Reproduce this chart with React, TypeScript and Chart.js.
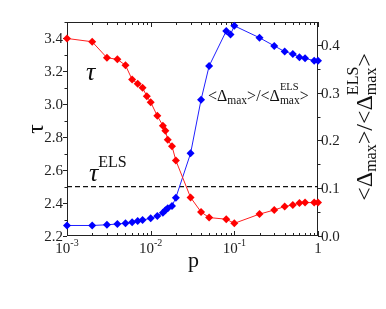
import { useEffect, useRef } from "react";
import { Chart, registerables } from "chart.js";

Chart.register(...registerables);

// ---- data ----
const P_TAU = [0.001, 0.002, 0.003, 0.004, 0.005, 0.006, 0.007, 0.008, 0.009, 0.01, 0.012, 0.014, 0.015, 0.016, 0.018, 0.02, 0.03, 0.04, 0.05, 0.08, 0.1, 0.2, 0.3, 0.4, 0.5, 0.6, 0.7, 0.9, 1.0];
const TAU = [3.4, 3.38, 3.283, 3.273, 3.237, 3.151, 3.125, 3.1, 3.049, 3.013, 2.93, 2.87, 2.84, 2.785, 2.745, 2.659, 2.434, 2.346, 2.312, 2.302, 2.277, 2.333, 2.358, 2.379, 2.389, 2.4, 2.403, 2.403, 2.403];

const P_DELTA = [0.001, 0.002, 0.003, 0.004, 0.005, 0.006, 0.007, 0.008, 0.01, 0.012, 0.014, 0.015, 0.016, 0.018, 0.02, 0.03, 0.04, 0.05, 0.08, 0.09, 0.1, 0.2, 0.3, 0.4, 0.5, 0.6, 0.7, 0.9, 1.0];
const DELTA = [0.022, 0.022, 0.0235, 0.0251, 0.0266, 0.0287, 0.0314, 0.0335, 0.037, 0.042, 0.0488, 0.0538, 0.058, 0.0628, 0.0802, 0.173, 0.285, 0.356, 0.429, 0.422, 0.44, 0.415, 0.398, 0.386, 0.381, 0.374, 0.372, 0.367, 0.367];

const TAU_ELS = 2.5;

const X_MAJOR = [0.001, 0.01, 0.1, 1];
const X_TICK_LABELS = ["10^-3", "10^-2", "10^-1", "1"];
const Y_MAJOR = [2.2, 2.4, 2.6, 2.8, 3.0, 3.2, 3.4];
const Y_MINOR = [2.3, 2.5, 2.7, 2.9, 3.1, 3.3, 3.5];
const Y2_MAJOR = [0, 0.1, 0.2, 0.3, 0.4];
const Y2_MINOR = [0.05, 0.15, 0.25, 0.35];

const SERIF = "'Liberation Serif', 'DejaVu Serif', serif";
const INK = "#222";

type Seg = { t: string; size: number; dy?: number; overlay?: boolean; italic?: boolean };

function richWidth(ctx: CanvasRenderingContext2D, segs: Seg[]) {
  let x = 0, ps = 0, pw = 0;
  for (const s of segs) {
    ctx.font = `${s.italic ? "italic " : ""}${s.size}px ${SERIF}`;
    const w = ctx.measureText(s.t).width;
    if (s.overlay) {
      x = Math.max(ps + pw, ps + w);
    } else {
      ps = x; pw = w; x += w;
    }
  }
  return x;
}

function drawRich(ctx: CanvasRenderingContext2D, x0: number, y: number, segs: Seg[], align: "left" | "center" | "right") {
  const total = richWidth(ctx, segs);
  let x = align === "left" ? x0 : align === "center" ? x0 - total / 2 : x0 - total;
  let ps = x, pw = 0;
  ctx.textAlign = "left";
  ctx.textBaseline = "alphabetic";
  for (const s of segs) {
    ctx.font = `${s.italic ? "italic " : ""}${s.size}px ${SERIF}`;
    const w = ctx.measureText(s.t).width;
    if (s.overlay) {
      ctx.fillText(s.t, ps, y + (s.dy || 0));
      x = Math.max(ps + pw, ps + w);
    } else {
      ctx.fillText(s.t, x, y + (s.dy || 0));
      ps = x; pw = w; x += w;
    }
  }
}

const framePlugin = {
  id: "frame",
  beforeDatasetsDraw(chart: any) {
    const ctx: CanvasRenderingContext2D = chart.ctx;
    const { left, right, top, bottom } = chart.chartArea;
    const xs = chart.scales.x, ys = chart.scales.y, y2 = chart.scales.y2;
    ctx.save();
    ctx.strokeStyle = INK;
    ctx.lineWidth = 1;
    ctx.strokeRect(left + 0.5, top + 0.5, right - left - 1, bottom - top - 1);
    ctx.beginPath();
    // x ticks (inward, top and bottom)
    for (let d = 0; d < X_MAJOR.length; d++) {
      const base = X_MAJOR[d];
      const px = Math.round(xs.getPixelForValue(base)) + 0.5;
      ctx.moveTo(px, bottom); ctx.lineTo(px, bottom - 5);
      ctx.moveTo(px, top); ctx.lineTo(px, top + 5);
      if (d < X_MAJOR.length - 1) {
        for (let k = 2; k <= 9; k++) {
          const mx = Math.round(xs.getPixelForValue(base * k)) + 0.5;
          ctx.moveTo(mx, bottom); ctx.lineTo(mx, bottom - 3);
          ctx.moveTo(mx, top); ctx.lineTo(mx, top + 3);
        }
      }
    }
    // left y ticks (outward)
    for (const v of Y_MAJOR) {
      const py = Math.round(ys.getPixelForValue(v)) + 0.5;
      ctx.moveTo(left, py); ctx.lineTo(left - 4, py);
    }
    for (const v of Y_MINOR) {
      const py = Math.round(ys.getPixelForValue(v)) + 0.5;
      ctx.moveTo(left, py); ctx.lineTo(left - 2.5, py);
    }
    // right y ticks (outward)
    for (const v of Y2_MAJOR) {
      const py = Math.round(y2.getPixelForValue(v)) + 0.5;
      ctx.moveTo(right, py); ctx.lineTo(right + 4, py);
    }
    for (const v of Y2_MINOR) {
      const py = Math.round(y2.getPixelForValue(v)) + 0.5;
      ctx.moveTo(right, py); ctx.lineTo(right + 2.5, py);
    }
    ctx.stroke();
    ctx.restore();
  },
  afterDraw(chart: any) {
    const ctx: CanvasRenderingContext2D = chart.ctx;
    const { left, right, top, bottom } = chart.chartArea;
    const xs = chart.scales.x, ys = chart.scales.y, y2 = chart.scales.y2;
    ctx.save();
    ctx.fillStyle = INK;
    // left tick labels
    ctx.font = `15px ${SERIF}`;
    ctx.textAlign = "right";
    ctx.textBaseline = "middle";
    for (const v of Y_MAJOR) ctx.fillText(v.toFixed(1), left - 4, ys.getPixelForValue(v) + 1);
    ctx.textAlign = "left";
    for (const v of Y2_MAJOR) ctx.fillText(v.toFixed(1), right + 3, y2.getPixelForValue(v) + 1);
    // x tick labels
    X_MAJOR.forEach((v, i) => {
      const [b, e] = X_TICK_LABELS[i].split("^");
      const segs: Seg[] = [{ t: b, size: 15 }];
      if (e) segs.push({ t: e, size: 10, dy: -7 });
      drawRich(ctx, xs.getPixelForValue(v), bottom + 17, segs, "center");
    });
    // x title
    ctx.fillStyle = "#111";
    drawRich(ctx, (left + right) / 2 + 1, bottom + 31, [{ t: "p", size: 22 }], "center");
    // left title
    ctx.save();
    ctx.translate(43, (top + bottom) / 2);
    ctx.rotate(-Math.PI / 2);
    drawRich(ctx, 0, 0, [{ t: "τ", size: 24 }], "center");
    ctx.restore();
    // right title
    ctx.save();
    ctx.translate(372, (top + bottom) / 2 - 2);
    ctx.rotate(-Math.PI / 2);
    drawRich(ctx, 0, 0, [
      { t: "<Δ", size: 24 },
      { t: "max", size: 16, dy: 4 },
      { t: ">/<Δ", size: 24 },
      { t: "max", size: 16, dy: 4 },
      { t: "ELS", size: 16, dy: -14, overlay: true },
      { t: ">", size: 24 },
    ], "center");
    ctx.restore();
    // in-plot labels
    drawRich(ctx, 86, 80, [{ t: "τ", size: 26, italic: true }], "left");
    drawRich(ctx, 89, 181, [{ t: "τ", size: 26, italic: true }, { t: "ELS", size: 16, dy: -14 }], "left");
    drawRich(ctx, 208, 101, [
      { t: "<Δ", size: 16 },
      { t: "max", size: 11.5, dy: 3 },
      { t: ">/<Δ", size: 16 },
      { t: "max", size: 11.5, dy: 3 },
      { t: "ELS", size: 10.5, dy: -11, overlay: true },
      { t: ">", size: 16 },
    ], "left");
    ctx.restore();
  },
};

export default function App() {
  const ref = useRef<HTMLCanvasElement>(null);
  useEffect(() => {
    const chart = new Chart(ref.current!, {
      type: "line",
      data: {
        datasets: [
          {
            label: "tau",
            data: P_TAU.map((p, i) => ({ x: p, y: TAU[i] })),
            yAxisID: "y",
            borderColor: "#ff2020",
            backgroundColor: "#ff0000",
            borderWidth: 1,
            pointStyle: "rectRot",
            pointRadius: 4,
            pointBorderWidth: 0,
            pointBackgroundColor: "#ff0000",
            clip: false,
          } as any,
          {
            label: "delta",
            data: P_DELTA.map((p, i) => ({ x: p, y: DELTA[i] })),
            yAxisID: "y2",
            borderColor: "#2020ff",
            backgroundColor: "#0000ff",
            borderWidth: 1,
            pointStyle: "rectRot",
            pointRadius: 4,
            pointBorderWidth: 0,
            pointBackgroundColor: "#0000ff",
            clip: false,
          } as any,
          {
            label: "tauELS",
            data: [{ x: 0.001, y: TAU_ELS }, { x: 1, y: TAU_ELS }],
            yAxisID: "y",
            borderColor: "#111",
            borderWidth: 1.3,
            borderDash: [5, 3],
            pointRadius: 0,
          } as any,
        ],
      },
      options: {
        responsive: false,
        animation: false,
        layout: { padding: { left: 67, right: 68, top: 22, bottom: 73 } },
        plugins: { legend: { display: false }, tooltip: { enabled: false } },
        scales: {
          x: { type: "logarithmic", min: 0.001, max: 1, display: false },
          y: { type: "linear", min: 2.2, max: 3.5, display: false },
          y2: { type: "linear", min: 0, max: 0.448, display: false, position: "right" },
        },
      },
      plugins: [framePlugin],
    });
    return () => chart.destroy();
  }, []);
  return (
    <div style={{ position: "fixed", left: 0, top: 0, width: 386, height: 309, background: "#fff" }}>
      <canvas ref={ref} width={386} height={309} style={{ display: "block" }} />
    </div>
  );
}
